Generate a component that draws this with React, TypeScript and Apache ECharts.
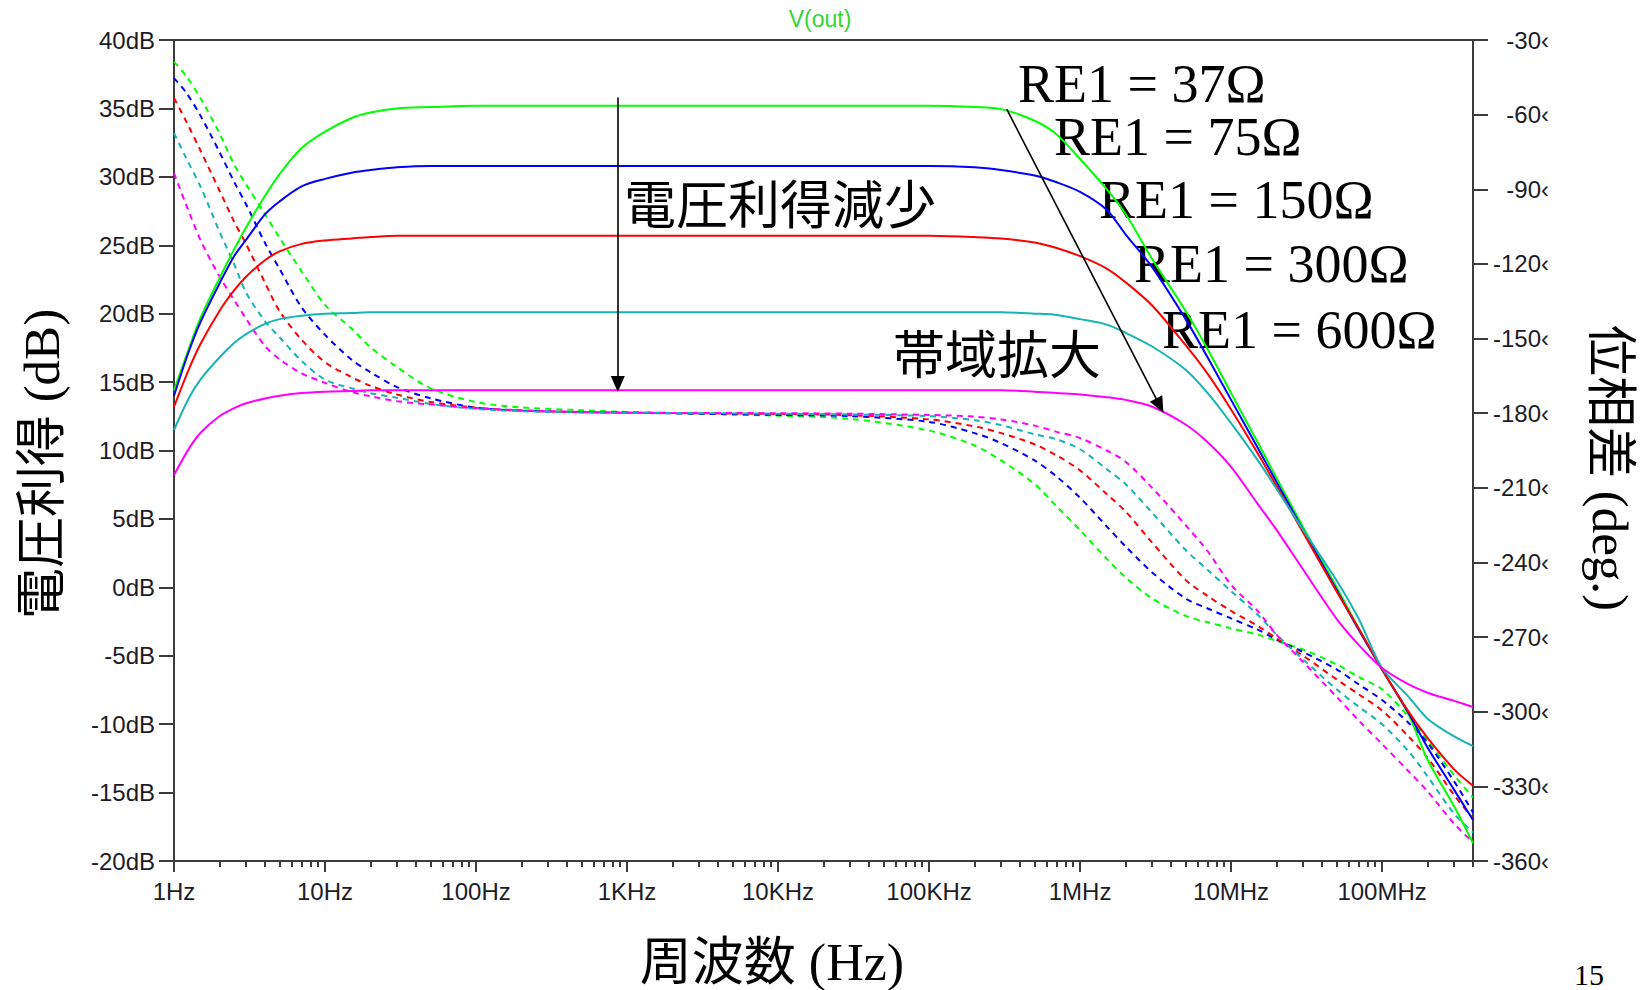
import React, { useEffect, useRef } from "react";
import * as echarts from "echarts";

// ---- axis ticks / labels ----
const majorTicks = [1, 10, 100, 1e3, 1e4, 1e5, 1e6, 1e7, 1e8];
const majorLabels = ["1Hz", "10Hz", "100Hz", "1KHz", "10KHz", "100KHz", "1MHz", "10MHz", "100MHz"];
const minorMultipliers = [2, 3, 4, 5, 6, 7, 8, 9];
const gainTicks = [-20, -15, -10, -5, 0, 5, 10, 15, 20, 25, 30, 35, 40];
const phaseTicks = [-360, -330, -300, -270, -240, -210, -180, -150, -120, -90, -60, -30];

// ---- series names / colours ----
const seriesNames = ["RE1 = 37Ω", "RE1 = 75Ω", "RE1 = 150Ω", "RE1 = 300Ω", "RE1 = 600Ω"];
const seriesColors = ["#00ff00", "#0000ff", "#ff0000", "#16b4b4", "#ff00ff"];

// ---- gain (dB), solid lines ----
const gainFreq = [1, 1.25, 1.5, 2, 2.5, 3, 4, 5, 7, 10, 15, 20, 30, 50, 100, 1e3, 1e4, 1e5, 2e5, 3e5, 5e5, 7e5, 1e6, 1.5e6, 2e6, 3e6, 5e6, 7e6, 1e7, 1.5e7, 2e7, 3e7, 5e7, 7e7, 1e8, 1.5e8, 2e8, 3e8, 4e8];
const gainRE37 = [14.4, 17.4, 19.7, 22.6, 24.7, 26.3, 28.6, 30.2, 32.1, 33.3, 34.3, 34.7, 35.0, 35.1, 35.2, 35.2, 35.2, 35.2, 35.1, 34.95, 34.1, 33.1, 31.3, 29.1, 27.3, 24.0, 20.2, 17.4, 14.2, 10.6, 8.0, 4.4, 0.0, -3.0, -6.0, -9.3, -12.6, -16.0, -18.7];
const gainRE75 = [14.0, 17.2, 19.4, 22.2, 24.2, 25.4, 27.25, 28.2, 29.3, 29.85, 30.3, 30.5, 30.7, 30.8, 30.8, 30.8, 30.8, 30.8, 30.7, 30.5, 30.1, 29.6, 28.9, 27.6, 25.8, 23.4, 19.6, 16.8, 13.7, 10.2, 7.7, 4.2, -0.2, -3.1, -6.0, -9.2, -11.7, -14.8, -17.0];
const gainRE150 = [13.2, 15.9, 17.8, 20.2, 21.7, 22.7, 23.9, 24.55, 25.1, 25.35, 25.5, 25.6, 25.7, 25.7, 25.7, 25.7, 25.7, 25.7, 25.6, 25.5, 25.2, 24.8, 24.2, 23.3, 22.3, 20.6, 17.7, 15.6, 13.0, 9.8, 7.4, 4.0, -0.3, -3.0, -6.0, -9.1, -11.0, -13.3, -14.5];
const gainRE300 = [11.5, 13.8, 15.2, 16.8, 17.85, 18.5, 19.25, 19.6, 19.85, 20.0, 20.05, 20.1, 20.1, 20.1, 20.1, 20.1, 20.1, 20.1, 20.1, 20.1, 20.0, 19.9, 19.6, 19.2, 18.6, 17.6, 15.9, 14.2, 12.0, 9.3, 7.2, 4.2, 0.5, -2.3, -5.9, -8.0, -9.6, -10.9, -11.6];
const gainRE600 = [8.2, 10.1, 11.3, 12.5, 13.1, 13.45, 13.8, 14.0, 14.2, 14.3, 14.35, 14.4, 14.4, 14.4, 14.4, 14.4, 14.4, 14.4, 14.4, 14.4, 14.3, 14.2, 14.1, 13.9, 13.7, 13.2, 11.9, 10.6, 8.8, 6.1, 4.2, 1.3, -2.3, -4.2, -5.9, -7.1, -7.7, -8.3, -8.75];

// ---- phase (deg), dashed lines ----
const phaseFreq = [1, 1.2, 1.5, 2, 2.5, 3, 4, 5, 7, 10, 15, 20, 30, 50, 100, 200, 500, 1e3, 1e4, 3e4, 1e5, 2e5, 3e5, 5e5, 7e5, 1e6, 1.5e6, 2e6, 3e6, 5e6, 7e6, 1e7, 1.5e7, 2e7, 3e7, 5e7, 7e7, 1e8, 1.5e8, 2e8, 3e8, 4e8];
const phaseRE37 = [-38.8, -44.3, -53.5, -67.5, -80, -88, -100, -109.5, -123, -136.5, -146, -153.5, -161.5, -170, -175.5, -177.7, -178.8, -179.5, -181, -182.3, -187, -193, -199, -208.5, -217.5, -227, -238.5, -246, -254.5, -261.5, -264, -266.5, -269, -271.5, -275, -281, -286, -291, -302, -311.5, -325.5, -334.5];
const phaseRE75 = [-45.3, -51, -60.5, -75, -87, -96, -111.5, -122, -137.5, -148.5, -158.5, -163.5, -169.5, -174, -177.8, -179, -179.6, -179.8, -180.7, -181.2, -183.5, -188, -192, -199, -205.5, -214, -225.5, -233.5, -244, -254.5, -258.5, -262.5, -267, -271, -276, -283, -289, -295.3, -304.5, -312.5, -328, -340.5];
const phaseRE150 = [-53.3, -62.5, -74.5, -90.5, -103, -112, -127.5, -139, -150.5, -159.5, -165.5, -169, -172.5, -175.5, -177.8, -179, -179.6, -179.8, -180.3, -180.8, -182.5, -185.3, -188, -192.5, -197, -203, -212.5, -219.5, -232, -247, -253.5, -259.5, -265.5, -270.5, -277.5, -287, -293, -299.5, -310, -318.5, -333.5, -343];
const phaseRE300 = [-67.4, -77.3, -89, -107, -120, -131.5, -143, -149.5, -159, -166.5, -170, -172, -173.8, -176.3, -178.3, -179.2, -179.7, -179.8, -180.2, -180.5, -181.2, -182.8, -184.8, -188.5, -190.5, -194.5, -202.5, -208.5, -220, -235, -243, -251.5, -261, -269, -279, -291, -298, -305, -316, -326, -341, -348.5];
const phaseRE600 = [-83.5, -96, -110.5, -125, -134.5, -142, -153, -158.3, -164, -167.8, -171.5, -173.2, -175.2, -176.5, -178, -178.8, -179.5, -179.8, -180, -180.2, -180.7, -181.4, -182.5, -185, -187.5, -190, -195, -199.5, -210, -225, -235.5, -249, -259.5, -269, -280, -294, -303.5, -313, -324, -332, -345, -352.5];

const gainSets = [gainRE37, gainRE75, gainRE150, gainRE300, gainRE600];
const phaseSets = [phaseRE37, phaseRE75, phaseRE150, phaseRE300, phaseRE600];

// ---- annotation arrows (data coordinates: [Hz, dB]) ----
const arrowGainDrop = [[869, 35.8], [869, 14.86]];
const arrowBandwidth = [[3.27e5, 34.94], [3.37e6, 13.28]];

const AXIS_COLOR = "#3c3c3c";
const LABEL_COLOR = "#1c1c28";
const SANS = '"Liberation Sans", Arial, sans-serif';
const MIXED = '"Liberation Serif", "Noto Sans CJK JP", serif';
const CJK = '"Noto Sans CJK JP", sans-serif';
const SERIF = '"Liberation Serif", serif';

export default function App() {
  const ref = useRef<HTMLDivElement | null>(null);

  useEffect(() => {
    if (!ref.current) return;
    const chart = echarts.init(ref.current, null, { renderer: "svg" });

    const minorTicks: number[] = [];
    majorTicks.forEach((d) => {
      minorMultipliers.forEach((k) => {
        const v = k * d;
        if (v <= 4e8) minorTicks.push(v);
      });
    });

    const labelFor = (v: number) => {
      for (let i = 0; i < majorTicks.length; i++) {
        if (Math.abs(Math.log10(v) - Math.log10(majorTicks[i])) < 1e-6) return majorLabels[i];
      }
      return "";
    };

    const series: any[] = [];
    phaseSets.forEach((vals, i) => {
      series.push({
        type: "line",
        name: seriesNames[i] + " phase",
        xAxisIndex: 0,
        yAxisIndex: 1,
        data: phaseFreq.map((f, j) => [f, vals[j]]),
        showSymbol: false,
        smooth: 0.3,
        lineStyle: { color: seriesColors[i], width: 2, type: [6, 5] },
        itemStyle: { color: seriesColors[i] },
        z: 2,
      });
    });
    gainSets.forEach((vals, i) => {
      const s: any = {
        type: "line",
        name: seriesNames[i],
        xAxisIndex: 0,
        yAxisIndex: 0,
        data: gainFreq.map((f, j) => [f, vals[j]]),
        showSymbol: false,
        smooth: 0.3,
        lineStyle: { color: seriesColors[i], width: 2 },
        itemStyle: { color: seriesColors[i] },
        z: 3,
      };
      if (i === 0) {
        s.markLine = {
          silent: true,
          symbol: ["none", "triangle"],
          symbolSize: [14, 16],
          label: { show: false },
          lineStyle: { color: "#000", width: 1.6, type: "solid" },
          data: [
            [{ coord: arrowGainDrop[0] }, { coord: arrowGainDrop[1] }],
            [{ coord: arrowBandwidth[0] }, { coord: arrowBandwidth[1] }],
          ],
          z: 5,
        };
      }
      series.push(s);
    });

    const baseX = { type: "log", logBase: 10, min: 1, max: 4e8, gridIndex: 0, splitLine: { show: false } };

    chart.setOption({
      animation: false,
      backgroundColor: "#ffffff",
      grid: { left: 174, top: 40, right: 172, bottom: 129, containLabel: false },
      xAxis: [
        {
          ...baseX,
          position: "bottom",
          axisLine: { show: true, onZero: false, lineStyle: { color: AXIS_COLOR, width: 2 } },
          axisTick: { show: true, inside: false, length: 11, customValues: majorTicks, lineStyle: { color: AXIS_COLOR, width: 2 } },
          axisLabel: {
            show: true,
            customValues: majorTicks,
            formatter: (v: number) => labelFor(v),
            color: LABEL_COLOR,
            fontFamily: SANS,
            fontSize: 24,
            margin: 18,
          },
        },
        {
          ...baseX,
          position: "bottom",
          axisLine: { show: false, onZero: false },
          axisTick: { show: true, inside: false, length: 6, customValues: minorTicks, lineStyle: { color: AXIS_COLOR, width: 2 } },
          axisLabel: { show: false },
        },
        {
          ...baseX,
          position: "top",
          axisLine: { show: true, onZero: false, lineStyle: { color: AXIS_COLOR, width: 2 } },
          axisTick: { show: false },
          axisLabel: { show: false },
        },
      ],
      yAxis: [
        {
          type: "value",
          position: "left",
          min: -20,
          max: 40,
          interval: 5,
          splitLine: { show: false },
          axisLine: { show: true, onZero: false, lineStyle: { color: AXIS_COLOR, width: 2 } },
          axisTick: { show: true, inside: false, length: 15, customValues: gainTicks, lineStyle: { color: AXIS_COLOR, width: 2 } },
          axisLabel: {
            formatter: (v: number) => v + "dB",
            color: LABEL_COLOR,
            fontFamily: SANS,
            fontSize: 24,
            margin: 19,
          },
        },
        {
          type: "value",
          position: "right",
          min: -360,
          max: -30,
          interval: 30,
          splitLine: { show: false },
          axisLine: { show: true, onZero: false, lineStyle: { color: AXIS_COLOR, width: 2 } },
          axisTick: { show: true, inside: false, length: 15, customValues: phaseTicks, lineStyle: { color: AXIS_COLOR, width: 2 } },
          axisLabel: {
            formatter: (v: number) => v + "‹",
            color: LABEL_COLOR,
            fontFamily: SANS,
            fontSize: 24,
            align: "right",
            margin: 76,
          },
        },
      ],
      graphic: [
        { type: "text", x: 820, y: 19, style: { text: "V(out)", font: `23px ${SANS}`, fill: "#33d433", align: "center", verticalAlign: "middle" } },
        { type: "text", x: 42, y: 464, rotation: Math.PI / 2, style: { text: "電圧利得 (dB)", font: `51px ${MIXED}`, fill: "#000", align: "center", verticalAlign: "middle" } },
        { type: "text", x: 1610, y: 468, rotation: -Math.PI / 2, style: { text: "位相差 (deg.)", font: `51px ${MIXED}`, fill: "#000", align: "center", verticalAlign: "middle" } },
        { type: "text", x: 772, y: 962, style: { text: "周波数 (Hz)", font: `52px ${MIXED}`, fill: "#000", align: "center", verticalAlign: "middle" } },
        { type: "text", x: 624, y: 201, style: { text: "電圧利得減少", font: `52px ${CJK}`, fill: "#000", align: "left", verticalAlign: "middle" } },
        { type: "text", x: 893, y: 351, style: { text: "帯域拡大", font: `52px ${CJK}`, fill: "#000", align: "left", verticalAlign: "middle" } },
        { type: "text", x: 1018, y: 84, style: { text: seriesNames[0], font: `54px ${SERIF}`, fill: "#000", align: "left", verticalAlign: "middle" } },
        { type: "text", x: 1054, y: 137, style: { text: seriesNames[1], font: `54px ${SERIF}`, fill: "#000", align: "left", verticalAlign: "middle" } },
        { type: "text", x: 1099, y: 200, style: { text: seriesNames[2], font: `54px ${SERIF}`, fill: "#000", align: "left", verticalAlign: "middle" } },
        { type: "text", x: 1134, y: 264, style: { text: seriesNames[3], font: `54px ${SERIF}`, fill: "#000", align: "left", verticalAlign: "middle" } },
        { type: "text", x: 1162, y: 330, style: { text: seriesNames[4], font: `54px ${SERIF}`, fill: "#000", align: "left", verticalAlign: "middle" } },
        { type: "text", x: 1574, y: 974, style: { text: "15", font: `30px ${SERIF}`, fill: "#000", align: "left", verticalAlign: "middle" } },
      ],
      series,
    });

    return () => chart.dispose();
  }, []);

  return (
    <div
      ref={ref}
      style={{ position: "absolute", left: 0, top: 0, width: 1645, height: 990, background: "#fff" }}
    />
  );
}
